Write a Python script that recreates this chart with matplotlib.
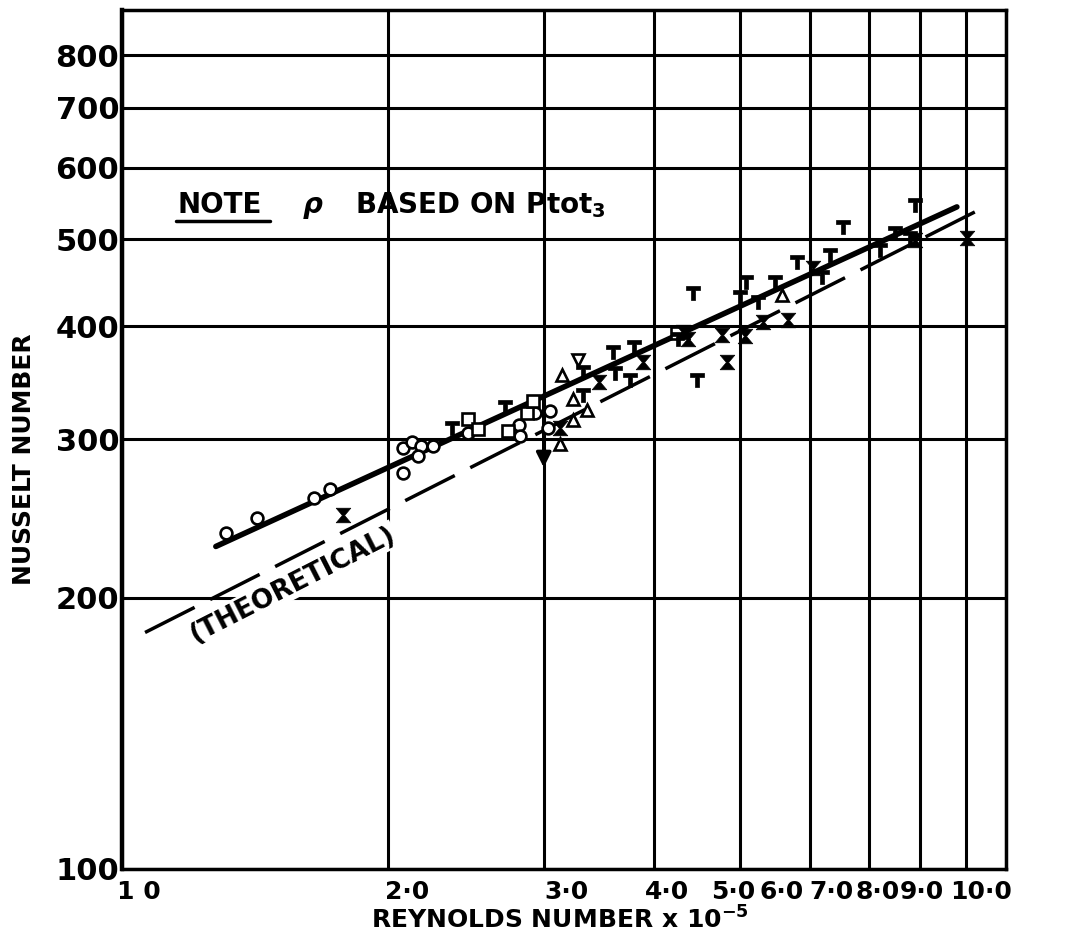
import matplotlib
matplotlib.use("Agg")
from matplotlib import pyplot as plt
from matplotlib.path import Path
from matplotlib.ticker import NullFormatter, NullLocator

plt.rcParams['font.family'] = ['DejaVu Sans']
plt.rcParams['font.weight'] = 'bold'

# readings (Reynolds number x 1e-5, Nusselt number)
circ_re = [1.31, 1.42, 1.65, 1.72, 2.08, 2.13, 2.18, 2.25, 2.16, 2.08, 2.46, 2.81, 2.82, 2.93, 3.05, 3.03]
circ_nu = [236, 245, 258, 264, 293, 298, 295, 295, 287, 275, 305, 311, 302, 321, 322, 309]

sq_re = [2.46, 2.53, 2.73, 2.87, 2.92, 4.24]
sq_nu = [316, 308, 306, 321, 331, 393]

tri_re = [3.15, 3.24, 3.36, 3.24, 3.13, 5.58]
tri_nu = [353, 332, 323, 315, 296, 434]

dtri_re = [3.28]
dtri_nu = [367]

tee_re = [2.36, 2.71, 3.32, 3.32, 3.59, 3.61, 3.80, 3.76, 4.26, 4.43, 4.47, 5.00, 5.08,
          5.24, 5.48, 5.80, 6.19, 6.32, 6.54, 7.20, 7.49, 7.79, 7.89]
tee_nu = [309, 326, 336, 356, 375, 355, 380, 349, 387, 436, 349, 431, 448,
          426, 448, 472, 454, 480, 516, 486, 508, 501, 546]

hg_re = [1.78, 3.13, 3.46, 3.89, 4.31, 4.37, 4.77, 4.84, 5.07, 5.31, 5.67, 6.05, 7.89, 9.03]
hg_nu = [247, 309, 347, 365, 394, 387, 391, 365, 390, 405, 407, 465, 499, 501]

# fitted line and theoretical line end points
fit_re = [1.277, 8.80]
fit_nu = [228, 543]
theo_re = [1.062, 9.22]
theo_nu = [183, 536]

# arrow at Re = 3.0
arrow_re = 3.0
arrow_nu = [335, 277]

grid_re = [1, 2, 3, 4, 5, 6, 7, 8, 9, 10]
xlab_pos = [1.045, 2.1, 3.18, 4.14, 4.91, 5.58, 6.34, 7.16, 8.04, 9.37]
xlab_txt = ["1 0", "2·0", "3·0", "4·0", "5·0", "6·0", "7·0", "8·0", "9·0", "10·0"]
nu_ticks = [100, 200, 300, 400, 500, 600, 700, 800]
nu_labels = ["100", "200", "300", "400", "500", "600", "700", "800"]

tee = Path([(-1, 1), (1, 1), (1, 0.45), (0.3, 0.45), (0.3, -1), (-0.3, -1),
            (-0.3, 0.45), (-1, 0.45), (-1, 1)], closed=True)
hourglass = Path([(-1, 1), (1, 1), (0.15, 0), (1, -1), (-1, -1), (-0.15, 0), (-1, 1)], closed=True)

fig = plt.figure(figsize=(10.67, 9.47), dpi=100)
ax = fig.add_axes([0.1143, 0.0824, 0.8285, 0.907])
ax.set_xscale('log')
ax.set_yscale('log')
ax.set_xlim(1, 10)
ax.set_ylim(100, 898)

# grid
ax.set_xticks(xlab_pos, xlab_txt)
ax.set_xticks(grid_re, minor=True)
ax.xaxis.set_minor_formatter(NullFormatter())
ax.set_yticks(nu_ticks, nu_labels)
ax.yaxis.set_minor_locator(NullLocator())
ax.set_axisbelow(True)
ax.grid(which='minor', axis='x', color='k', lw=2.2)
ax.grid(which='major', axis='y', color='k', lw=2.2)
ax.tick_params(which='both', length=0)
ax.tick_params(axis='x', labelsize=18, pad=8)
ax.tick_params(axis='y', labelsize=22, pad=2)
for s in ax.spines.values():
    s.set_linewidth(2.5)
ax.spines['left'].set_linewidth(3.2)

# lines
ax.plot(fit_re, fit_nu, color='k', lw=4, solid_capstyle='round', zorder=3)
ax.plot(theo_re, theo_nu, color='k', lw=2.5, dashes=(16, 5), zorder=3)

mk = dict(linestyle='none', color='k', zorder=4)
ax.plot(circ_re, circ_nu, marker='o', ms=8.5, mfc='white', mew=1.9, **mk)
ax.plot(sq_re, sq_nu, marker='s', ms=8, mfc='white', mew=1.9, **mk)
ax.plot(tri_re, tri_nu, marker='^', ms=9, mfc='white', mew=1.9, **mk)
ax.plot(dtri_re, dtri_nu, marker='v', ms=9, mfc='white', mew=1.9, **mk)
ax.plot(tee_re, tee_nu, marker=tee, ms=10.5, mfc='k', mew=0.5, **mk)
ax.plot(hg_re, hg_nu, marker=hourglass, ms=10.5, mfc='k', mew=0.5, **mk)

ax.annotate("", xy=(arrow_re, arrow_nu[1]), xytext=(arrow_re, arrow_nu[0]),
            arrowprops=dict(arrowstyle='-|>', color='k', lw=2.5, mutation_scale=22),
            zorder=3)

ax.text(1.561, 207, "(THEORETICAL)", rotation=27, fontsize=19, ha='center', va='center',
        rotation_mode='anchor', zorder=2,
        bbox=dict(facecolor='white', edgecolor='none', pad=1))

# note
ax.text(0.063, 0.764, "NOTE", transform=ax.transAxes, fontsize=20, va='baseline')
ax.plot([0.061, 0.167], [0.754, 0.754], transform=ax.transAxes, color='k', lw=2.5,
        solid_capstyle='round')
ax.text(0.205, 0.764, "ρ", transform=ax.transAxes, fontsize=20, style='italic', va='baseline')
ax.text(0.264, 0.764, r"BASED ON Ptot$_{\mathbf{3}}$", transform=ax.transAxes,
        fontsize=20, va='baseline')

ax.set_ylabel("NUSSELT NUMBER", fontsize=18, fontweight='bold')
ax.yaxis.set_label_coords(-0.097, 0.477)
ax.set_xlabel(r"REYNOLDS NUMBER x 10$^{\mathbf{-5}}$", fontsize=18, fontweight='bold')
ax.xaxis.set_label_coords(0.495, -0.043)

fig.savefig("out.png", dpi=100)
